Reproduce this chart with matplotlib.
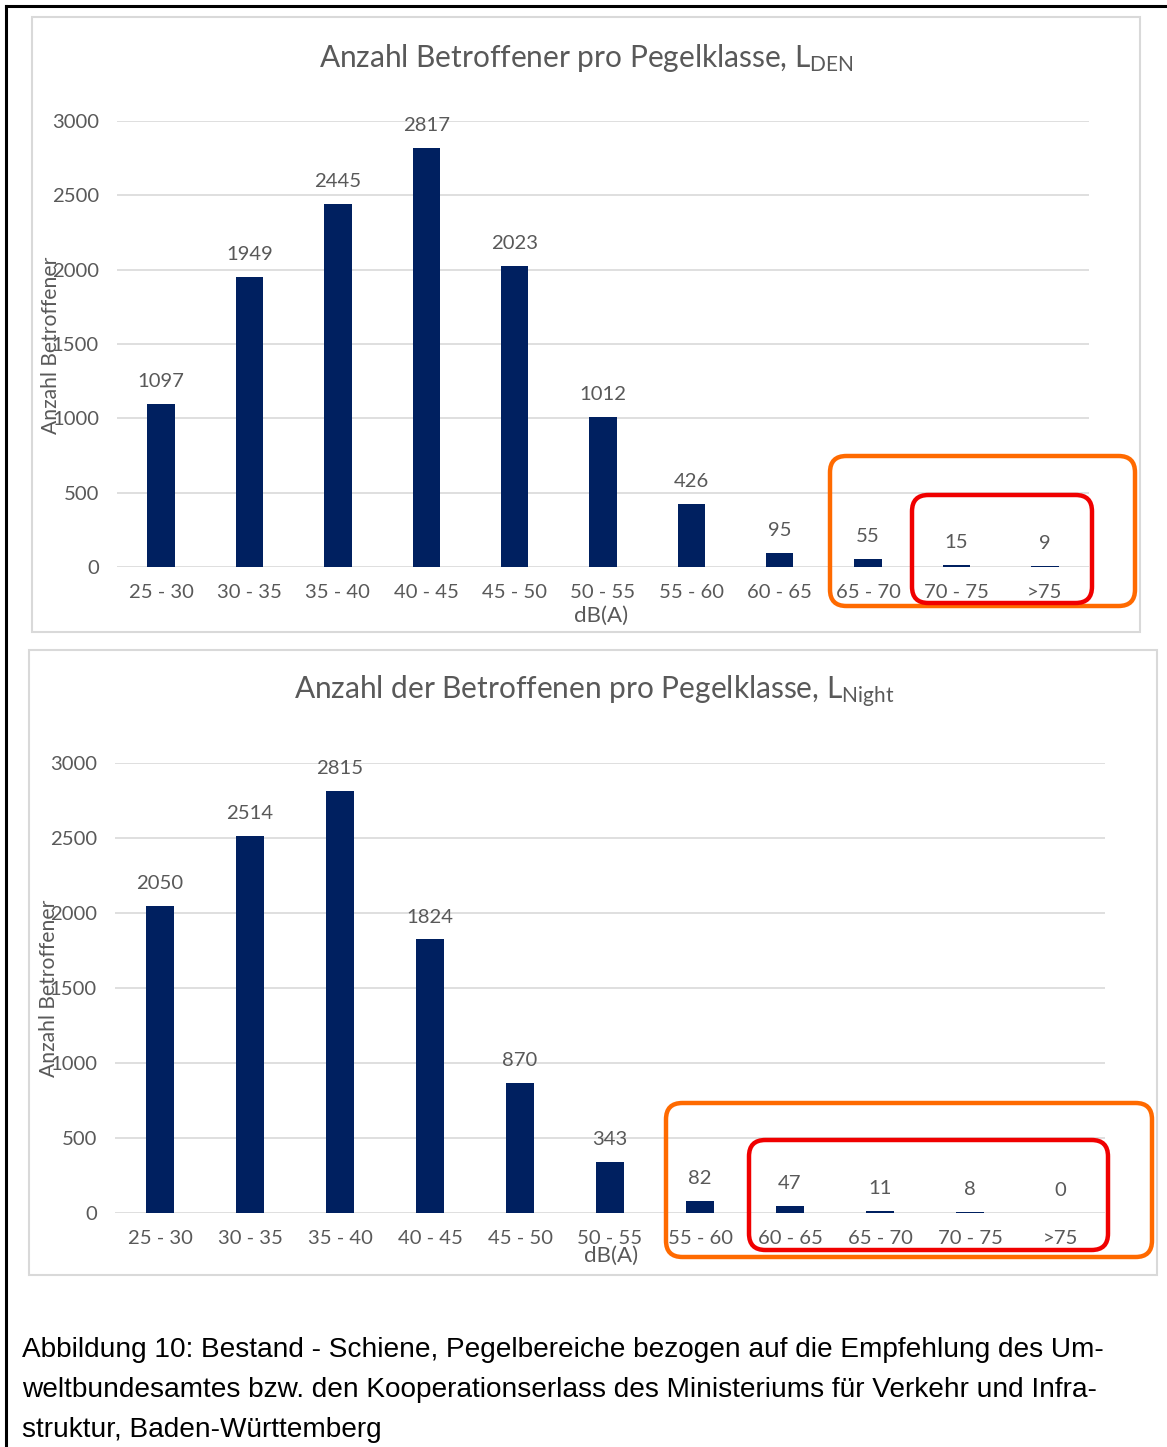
import matplotlib
matplotlib.use("Agg")
import matplotlib.pyplot as plt
from matplotlib.patches import FancyBboxPatch, Rectangle
from matplotlib.lines import Line2D

# ---- data ----
classes_den = ["25 - 30", "30 - 35", "35 - 40", "40 - 45", "45 - 50", "50 - 55",
               "55 - 60", "60 - 65", "65 - 70", "70 - 75", ">75"]
values_den = [1097, 1949, 2445, 2817, 2023, 1012, 426, 95, 55, 15, 9]

classes_night = ["25 - 30", "30 - 35", "35 - 40", "40 - 45", "45 - 50", "50 - 55",
                 "55 - 60", "60 - 65", "65 - 70", "70 - 75", ">75"]
values_night = [2050, 2514, 2815, 1824, 870, 343, 82, 47, 11, 8, 0]

y_ticks = [0, 500, 1000, 1500, 2000, 2500, 3000]

title_den = "Anzahl Betroffener pro Pegelklasse, L$_{\\mathrm{DEN}}$"
title_night = "Anzahl der Betroffenen pro Pegelklasse, L$_{\\mathrm{Night}}$"
y_label = "Anzahl Betroffener"
x_label = "dB(A)"
caption = ["Abbildung 10: Bestand - Schiene, Pegelbereiche bezogen auf die Empfehlung des Um-",
           "weltbundesamtes bzw. den Kooperationserlass des Ministeriums für Verkehr und Infra-",
           "struktur, Baden-Württemberg"]

# ---- style ----
W, H = 1167, 1447
DPI = 100
BAR = "#002060"
TXT = "#595959"
GRID = "#D9D9D9"
FONT = "Lato"
TICK_FS = 14.6

plt.rcParams["font.family"] = [FONT, "DejaVu Sans"]
plt.rcParams["mathtext.fontset"] = "custom"
plt.rcParams["mathtext.rm"] = FONT
plt.rcParams["mathtext.it"] = FONT
plt.rcParams["mathtext.bf"] = FONT

fig = plt.figure(figsize=(W / DPI, H / DPI), dpi=DPI)
fig.patch.set_facecolor("white")


def fx(x):
    return x / W


def fy(y):
    return 1 - y / H


def box_px(x0, y0, x1, y1):
    return [fx(x0), fy(y1), fx(x1) - fx(x0), fy(y0) - fy(y1)]


# outer frame (top and left rules)
fig.add_artist(Line2D([fx(6), fx(W)], [fy(6), fy(6)], color="black", lw=2.2))
fig.add_artist(Line2D([fx(6), fx(6)], [fy(6), fy(H)], color="black", lw=2.2))


def chart_panel(x0, y0, x1, y1):
    fig.add_artist(Rectangle((fx(x0), fy(y1)), fx(x1) - fx(x0), fy(y0) - fy(y1),
                             transform=fig.transFigure, facecolor="white",
                             edgecolor=GRID, lw=1.5, zorder=0))


def bar_chart(rect, cats, vals, title, title_xy, ylabel_xy, xlabel_xy):
    ax = fig.add_axes(rect)
    ax.set_facecolor("none")
    x = list(range(len(cats)))
    ax.bar(x, vals, width=0.31, color=BAR, zorder=3)
    ax.set_xlim(-0.5, len(cats) - 0.5)
    ax.set_ylim(0, 3000)
    ax.set_yticks(y_ticks)
    ax.set_yticklabels([str(t) for t in y_ticks])
    ax.set_xticks(x)
    ax.set_xticklabels(cats)
    ax.tick_params(axis="both", length=0, labelsize=TICK_FS, colors=TXT)
    ax.tick_params(axis="y", pad=13)
    ax.tick_params(axis="x", pad=12)
    ax.grid(axis="y", color=GRID, lw=1.2, zorder=0)
    for s in ax.spines.values():
        s.set_visible(False)
    for xi, v in zip(x, vals):
        ax.annotate(str(v), (xi, v), xytext=(0, 10), textcoords="offset points",
                    ha="center", va="bottom", fontsize=TICK_FS, color=TXT,
                    annotation_clip=False)
    fig.text(fx(title_xy[0]), fy(title_xy[1]), title, ha="center", va="center",
             fontsize=21.5, color=TXT)
    fig.text(fx(ylabel_xy[0]), fy(ylabel_xy[1]), y_label, ha="center", va="center",
             rotation=90, fontsize=15.2, color=TXT)
    fig.text(fx(xlabel_xy[0]), fy(xlabel_xy[1]), x_label, ha="center", va="center",
             fontsize=16, color=TXT)
    return ax


def highlight(x0, y0, x1, y1, color):
    fig.add_artist(FancyBboxPatch((fx(x0), fy(y1)), fx(x1) - fx(x0), fy(y0) - fy(y1),
                                  boxstyle="round,pad=0,rounding_size=0.014",
                                  transform=fig.transFigure, facecolor="none",
                                  edgecolor=color, lw=3.2, zorder=10,
                                  mutation_aspect=W / H))


# panels
chart_panel(32, 17, 1140, 632)
chart_panel(29, 650, 1157, 1275)

bar_chart(box_px(117, 121, 1089, 567), classes_den, values_den, title_den,
          (586, 58), (51, 345), (601, 616))
bar_chart(box_px(115, 763, 1105, 1213), classes_night, values_night, title_night,
          (594, 692), (49, 988), (611, 1256))

# highlighted level classes
highlight(830, 456, 1135, 606, "#FF6A00")
highlight(912, 495, 1092, 603, "#F00000")
highlight(666, 1103, 1152, 1257, "#FF6A00")
highlight(749, 1140, 1108, 1250, "#F00000")

# caption
for i, line in enumerate(caption):
    fig.text(fx(22), fy(1350 + 40 * i), line, ha="left", va="center",
             fontsize=20.2, color="black", family=["Liberation Sans", "DejaVu Sans"])

fig.savefig("out.png", dpi=DPI, facecolor="white")
